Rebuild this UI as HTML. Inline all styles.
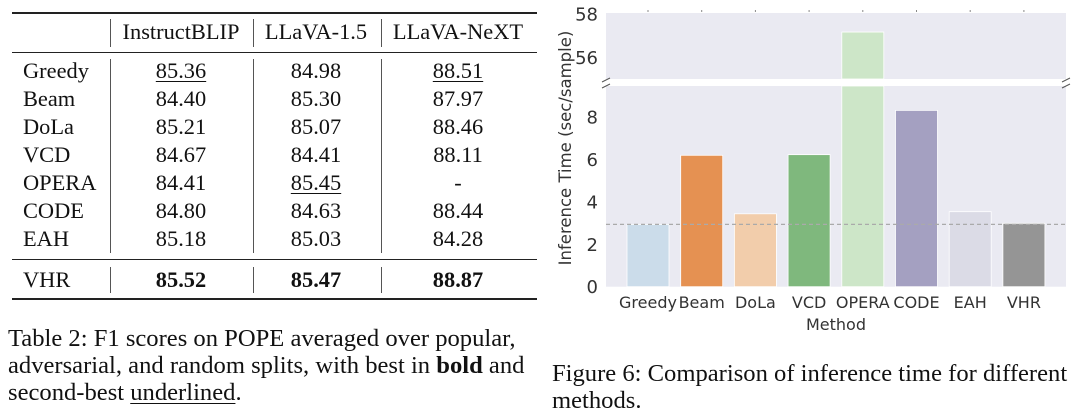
<!DOCTYPE html>
<html><head><meta charset="utf-8"><style>
body{margin:0;width:1080px;height:419px;background:#fff;position:relative;overflow:hidden;font-family:"Liberation Serif",serif;color:#111}
.t{position:absolute;font-size:22.4px;line-height:26px;white-space:nowrap}
.c{transform:translateX(-50%)}
.rule{position:absolute;left:12px;width:525px;background:#222}
.vl{position:absolute;width:1px;background:#555}
.u{text-decoration:underline;text-underline-offset:3px;text-decoration-thickness:1px}
.b{font-weight:bold}
.cap{position:absolute;font-size:24.6px;white-space:nowrap;line-height:27px}
</style></head><body>
<div id="tbl"></div>
<div class="cap" style="left:8px;top:325px">Table 2: F1 scores on POPE averaged over popular,<br>adversarial, and random splits, with best in <b>bold</b> and<br>second-best <span class="u">underlined</span>.</div>
<div class="cap" style="left:552px;top:360px">Figure 6: Comparison of inference time for different<br>methods.</div>
<svg id="chart" width="1080" height="419" style="position:absolute;left:0;top:0" font-family="DejaVu Sans, sans-serif"></svg>
<script>
const rows=["Greedy","Beam","DoLa","VCD","OPERA","CODE","EAH"];
const colsH=["InstructBLIP","LLaVA-1.5","LLaVA-NeXT"];
const vals=[["85.36","84.98","88.51"],["84.40","85.30","87.97"],["85.21","85.07","88.46"],["84.67","84.41","88.11"],["84.41","85.45","-"],["84.80","84.63","88.44"],["85.18","85.03","84.28"]];
const under=[[1,0,1],[0,0,0],[0,0,0],[0,0,0],[0,1,0],[0,0,0],[0,0,0]];
const vhr=["85.52","85.47","88.87"];
const tb=document.getElementById('tbl');
const cx=[181,316,458];
function add(html,name){const d=document.createElement('div');d.innerHTML=html;const e=d.firstChild;

tb.appendChild(e);return e;}
[12,52,259,298].forEach((y,i)=>add(`<div class="rule" style="top:${y}px;height:${i==0||i==3?1.5:1}px"></div>`,'table-rule'));
[[19,28],[59,194],[267,26]].forEach(s=>[110,253,381].forEach(x=>add(`<div class="vl" style="left:${x}px;top:${s[0]}px;height:${s[1]}px"></div>`,'column-divider')));
colsH.forEach((h,j)=>add(`<div class="t c" style="left:${cx[j]}px;top:19px">${h}</div>`,'column-header'));
const ry=[71,99,127,155,183,211,239];
rows.forEach((r,i)=>{add(`<div class="t" style="left:23px;top:${ry[i]-13}px">${r}</div>`,'row-label');
vals[i].forEach((v,j)=>add(`<div class="t c${under[i][j]?' u':''}" style="left:${cx[j]}px;top:${ry[i]-13}px">${v}</div>`,'cell-value'));});
add(`<div class="t" style="left:23px;top:267px">VHR</div>`,'row-label');
vhr.forEach((v,j)=>add(`<div class="t c b" style="left:${cx[j]}px;top:267px">${v}</div>`,'cell-value'));

// chart
const methods=["Greedy","Beam","DoLa","VCD","OPERA","CODE","EAH","VHR"];
const times=[2.94,6.2,3.44,6.23,57.17,8.32,3.54,2.99];
const colors=["#cbdcea","#e59152","#f2cdab","#7fb87d","#cde6c8","#a4a0c1","#dbdbe6","#959595"];
const lowTicks=[0,2,4,6,8];
const highTicks=[56,58];
const baseline=2.94;
const svg=document.getElementById('chart');const NS='http://www.w3.org/2000/svg';
function el(t,a,name){const e=document.createElementNS(NS,t);for(const k in a)e.setAttribute(k,a[k]);


svg.appendChild(e);return e;}
const PX0=606,PX1=1066,LT=86,LB=286.7,HT=13,HB=79;
const lowMax=9.47,hiMin=55.0,hiMax=58.05;
const yL=v=>LB-(v/lowMax)*(LB-LT);
const yH=v=>HB-((v-hiMin)/(hiMax-hiMin))*(HB-HT);
const xS=i=>648+i*53.7;
el('rect',{x:PX0,y:HT,width:PX1-PX0,height:HB-HT,fill:'#eaeaf2'},'upper-panel');
el('rect',{x:PX0,y:LT,width:PX1-PX0,height:LB-LT,fill:'#eaeaf2'},'lower-panel');
methods.forEach((m,i)=>{const w=42,x=xS(i)-w/2,v=times[i];
const top=Math.max(yL(Math.min(v,lowMax)),LT);
el('rect',{x,y:top,width:w,height:LB-top,fill:colors[i],stroke:'#fff','stroke-width':0.8},'bar-'+m.toLowerCase());
if(v>hiMin){const t=yH(Math.min(v,hiMax));el('rect',{x,y:t,width:w,height:HB-t,fill:colors[i],stroke:'#fff','stroke-width':0.8},'bar-'+m.toLowerCase()+'-upper');}
const tx=el('text',{x:xS(i),y:308,'text-anchor':'middle','font-size':16,fill:'#333'},'x-tick-label');tx.textContent=m;
el('line',{x1:xS(i),x2:xS(i),y1:HT-3,y2:HT-1,stroke:'#888'},'top-tick');});
el('line',{x1:PX0,x2:PX1,y1:yL(baseline),y2:yL(baseline),stroke:'#aaa','stroke-dasharray':'4,3','stroke-width':1.2},'baseline-dashed-line');
lowTicks.forEach(t=>{const e=el('text',{x:598,y:yL(t)+6.5,'text-anchor':'end','font-size':18,fill:'#333'},'y-tick-label');e.textContent=t;});
highTicks.forEach(t=>{const e=el('text',{x:598,y:yH(t)+6.5,'text-anchor':'end','font-size':18,fill:'#333'},'y-tick-label');e.textContent=t;});
[[PX0,80],[PX0,86],[PX1,80],[PX1,86]].forEach(p=>el('line',{x1:p[0]-4,x2:p[0]+4,y1:p[1]+2,y2:p[1]-2,stroke:'#555'},'axis-break-mark'));
const yt=el('text',{x:0,y:0,transform:'translate(571,148) rotate(-90)','text-anchor':'middle','font-size':16.5,fill:'#333'},'y-axis-title');yt.textContent='Inference Time (sec/sample)';
const xt=el('text',{x:836,y:330,'text-anchor':'middle','font-size':16,fill:'#333'},'x-axis-title');xt.textContent='Method';
</script>
</body></html>
